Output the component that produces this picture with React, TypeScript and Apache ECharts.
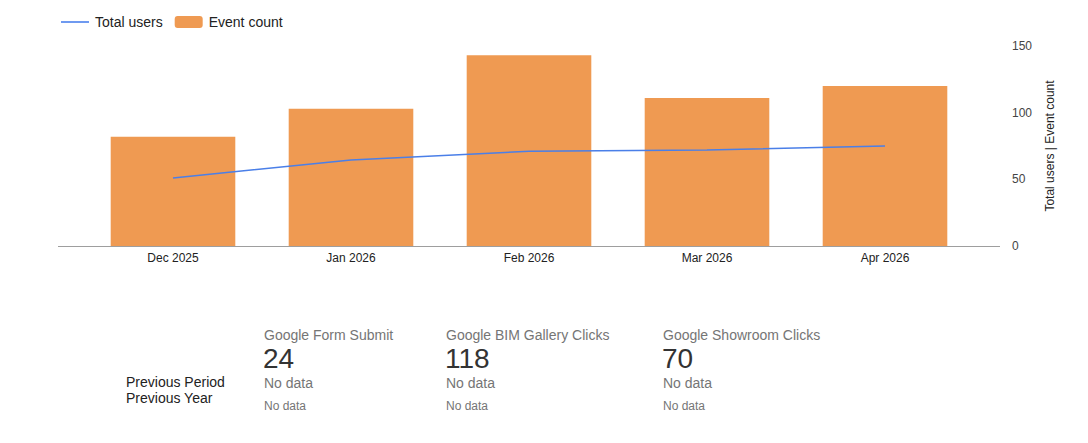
import { useEffect, useRef } from "react";
import * as echarts from "echarts";

const months = ["Dec 2025", "Jan 2026", "Feb 2026", "Mar 2026", "Apr 2026"];
const eventCount = [82, 103, 143, 111, 120];
const totalUsers = [51, 64.5, 71, 72, 75];
const yTicks = [0, 50, 100, 150];

const cardTitles = ["Google Form Submit", "Google BIM Gallery Clicks", "Google Showroom Clicks"];
const cardValues = ["24", "118", "70"];
const compareLabels = ["Previous Period", "Previous Year"];

const FONT = "Arial, 'Liberation Sans', sans-serif";

export default function App() {
  const ref = useRef<HTMLDivElement>(null);

  useEffect(() => {
    document.body.style.margin = "0";
    if (!ref.current) return;
    const chart = echarts.init(ref.current, undefined, { renderer: "svg" });

    const cardX = [264, 446, 663];
    const cards: any[] = [];
    cardTitles.forEach((t, i) => {
      const x = cardX[i];
      cards.push(
        { type: "text", x, y: 335, style: { text: t, fill: "#757575", font: `14px ${FONT}`, verticalAlign: "middle" } },
        { type: "text", x: x - 1, y: 358, style: { text: cardValues[i], fill: "#333333", font: `28px ${FONT}`, verticalAlign: "middle" } },
        { type: "text", x, y: 383, style: { text: "No data", fill: "#757575", font: `14px ${FONT}`, verticalAlign: "middle" } },
        { type: "text", x, y: 406, style: { text: "No data", fill: "#757575", font: `12px ${FONT}`, verticalAlign: "middle" } }
      );
    });
    compareLabels.forEach((t, i) => {
      cards.push({ type: "text", x: 126, y: 382 + i * 16, style: { text: t, fill: "#222222", font: `14px ${FONT}`, verticalAlign: "middle" } });
    });

    chart.setOption({
      animation: false,
      textStyle: { fontFamily: FONT },
      legend: {
        left: 60,
        top: 15,
        padding: 0,
        itemWidth: 28,
        itemHeight: 12,
        itemGap: 12,
        textStyle: { fontSize: 14, color: "#222222", fontFamily: FONT, padding: [0, 0, 0, 1] },
        data: [
          { name: "Total users", itemStyle: { opacity: 0 }, lineStyle: { width: 2, color: "#6f9af0" } },
          { name: "Event count" },
        ],
      },
      grid: { left: 84, right: 114, top: 46, bottom: 197 },
      xAxis: {
        type: "category",
        data: months,
        axisLine: { show: false },
        axisTick: { show: false },
        axisLabel: { color: "#222222", fontSize: 12, margin: 6 },
      },
      yAxis: {
        type: "value",
        position: "right",
        min: yTicks[0],
        max: yTicks[yTicks.length - 1],
        interval: 50,
        splitLine: { show: false },
        axisLine: { show: false },
        axisTick: { show: false },
        axisLabel: { color: "#444444", fontSize: 12, margin: 38, align: "left" },
        name: "Total users | Event count",
        nameLocation: "middle",
        nameRotate: 90,
        nameGap: 70,
        nameTextStyle: { color: "#222222", fontSize: 12 },
      },
      series: [
        {
          name: "Event count",
          type: "bar",
          data: eventCount,
          barCategoryGap: "30%",
          itemStyle: { color: "#ef9a52" },
          z: 1,
        },
        {
          name: "Total users",
          type: "line",
          data: totalUsers,
          symbol: "none",
          lineStyle: { color: "#4a7fe8", width: 1.5 },
          itemStyle: { color: "#4a7fe8" },
          z: 3,
        },
      ],
      graphic: [
        {
          type: "line",
          shape: { x1: 58, y1: 246.5, x2: 1000, y2: 246.5 },
          style: { stroke: "#9e9e9e", lineWidth: 1 },
          z: 10,
        },
        ...cards,
      ],
    });

    return () => chart.dispose();
  }, []);

  return <div ref={ref} style={{ width: 1088, height: 443 }} />;
}
